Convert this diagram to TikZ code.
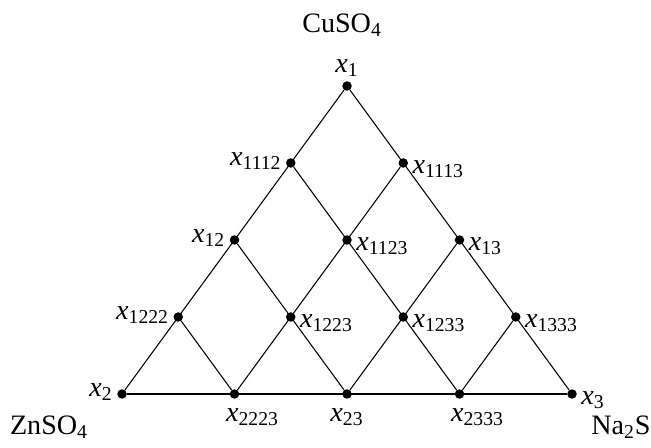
\documentclass[tikz,border=0pt]{standalone}
\usepackage{fontspec}
\setmainfont{Liberation Serif}
\newcommand{\xs}[1]{\textit{x}\textsubscript{#1}}
\begin{document}
\begin{tikzpicture}[x=0.02cm, y=-0.02cm, line width=0.6pt, line cap=round, line join=round,
  punto/.style={circle, fill, inner sep=0pt, minimum size=0.19cm},
  every label/.style={inner sep=2pt, font=\fontsize{16}{19}\selectfont},
  quimico/.style={inner sep=0pt, font=\fontsize{16}{19}\selectfont},
  der/.style={label={[yshift=-0.12cm]right:#1}},
  izq/.style={label={[yshift=0.04cm]left:#1}},
  aba/.style={label={[xshift=0.36cm, yshift=-0.1cm]below:#1}}]
  \useasboundingbox (0,0) rectangle (651,448);
  % los puntos de la malla
  \node[punto, label=above:\xs{1}] (x1) at (347,86) {};
  \node[punto, izq=\xs{1112}] (x1112) at (290.75,163) {};
  \node[punto, der=\xs{1113}] (x1113) at (403.25,163) {};
  \node[punto, izq=\xs{12}] (x12) at (234.5,240) {};
  \node[punto, der=\xs{1123}] (x1123) at (347,240) {};
  \node[punto, der=\xs{13}] (x13) at (459.5,240) {};
  \node[punto, izq=\xs{1222}] (x1222) at (178.25,317) {};
  \node[punto, der=\xs{1223}] (x1223) at (290.75,317) {};
  \node[punto, der=\xs{1233}] (x1233) at (403.25,317) {};
  \node[punto, der=\xs{1333}] (x1333) at (515.75,317) {};
  \node[punto, izq=\xs{2}] (x2) at (122,394) {};
  \node[punto, aba=\xs{2223}] (x2223) at (234.5,394) {};
  \node[punto, label={[yshift=-0.1cm]below:\xs{23}}] (x23) at (347,394) {};
  \node[punto, aba=\xs{2333}] (x2333) at (459.5,394) {};
  \node[punto, der=\xs{3}] (x3) at (572,394) {};
  % los compuestos
  \node[quimico] (cu) at (342,25) {CuSO\textsubscript{4}};
  \node[quimico] (zn) at (49,427) {ZnSO\textsubscript{4}};
  \node[quimico] (na) at (621,427) {Na\textsubscript{2}S};
  % los lados y las rectas paralelas
  \foreach \a/\b in {x1/x2, x1/x3, x2/x3, x1113/x2223, x13/x23, x1333/x2333,
                     x1112/x2333, x12/x23, x1222/x2223} {
    \draw (\a) -- (\b);
  }
\end{tikzpicture}
\end{document}
